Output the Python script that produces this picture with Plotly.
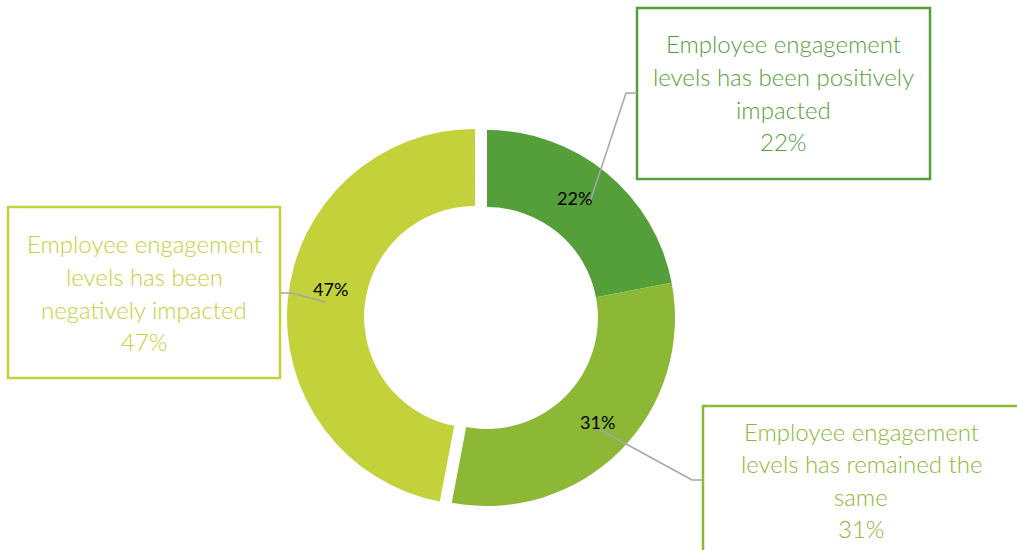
import plotly.graph_objects as go

# Survey responses: impact on employee engagement levels
categories = [
    "Employee engagement levels has been positively impacted",
    "Employee engagement levels has remained the same",
    "Employee engagement levels has been negatively impacted",
]
shares = [22, 31, 47]
colors = ["#559F3B", "#8CB835", "#C3D13B"]
pulls = [0, 0, 0.064]

# Wrapped text for each callout box
callout_lines = [
    ["Employee engagement", "levels has been positively", "impacted"],
    ["Employee engagement", "levels has remained the", "same"],
    ["Employee engagement", "levels has been", "negatively impacted"],
]

W, H = 1017, 550
FONT = "Lato, 'Open Sans', sans-serif"


def px(x):
    return x / W


def py(y):
    return 1 - y / H


fig = go.Figure(
    go.Pie(
        labels=categories,
        values=shares,
        sort=False,
        direction="clockwise",
        rotation=0,
        hole=0.59,
        pull=pulls,
        marker=dict(colors=colors, line=dict(width=0)),
        textinfo="none",
        hoverinfo="label+percent",
        domain=dict(x=[px(487 - 200), px(487 + 200)], y=[py(318 + 200), py(318 - 200)]),
    )
)

# Callout boxes: (left, top, right, bottom, text centre x, first line y)
boxes = [
    (637, 8, 930, 179, 783, 44),
    (703, 406, 1030, 565, 861, 431),
    (8, 207, 280, 378, 144, 244),
]
# Data label positions on the ring
slice_label_pos = [(574, 198), (597, 422), (330, 289)]
line_step = 32.5

shapes = []
annotations = []
for i, (x0, y0, x1, y1, cx, ty) in enumerate(boxes):
    shapes.append(dict(
        type="rect", xref="paper", yref="paper",
        x0=px(x0), x1=px(x1), y0=py(y1), y1=py(y0),
        line=dict(color=colors[i], width=2.5), fillcolor="rgba(0,0,0,0)",
    ))
    lines = callout_lines[i] + [f"{shares[i]}%"]
    for k, t in enumerate(lines):
        annotations.append(dict(
            x=px(cx), y=py(ty + k * line_step), xref="paper", yref="paper",
            text=t, showarrow=False, xanchor="center", yanchor="middle",
            font=dict(family=FONT, size=24, color=colors[i], weight=300),
        ))
    lx, ly = slice_label_pos[i]
    annotations.append(dict(
        x=px(lx), y=py(ly), xref="paper", yref="paper",
        text=f"{shares[i]}%", showarrow=False, xanchor="center", yanchor="middle",
        font=dict(family=FONT, size=18, color="#000000", weight=400),
    ))

# Leader lines from slice labels to their callouts
leaders = [
    [(589, 205), (626, 93), (637, 93)],
    [(595, 427), (692, 480), (703, 480)],
    [(325, 302), (292, 293), (281, 293)],
]
for pts in leaders:
    path = "M " + " L ".join(f"{px(x)},{py(y)}" for x, y in pts)
    shapes.append(dict(
        type="path", xref="paper", yref="paper", path=path,
        line=dict(color="#A6A6A6", width=1.5),
    ))

fig.update_layout(
    width=W, height=H,
    margin=dict(l=0, r=0, t=0, b=0),
    paper_bgcolor="white", plot_bgcolor="white",
    showlegend=False,
    shapes=shapes,
    annotations=annotations,
    font=dict(family=FONT),
)

fig.write_html("out.html")
